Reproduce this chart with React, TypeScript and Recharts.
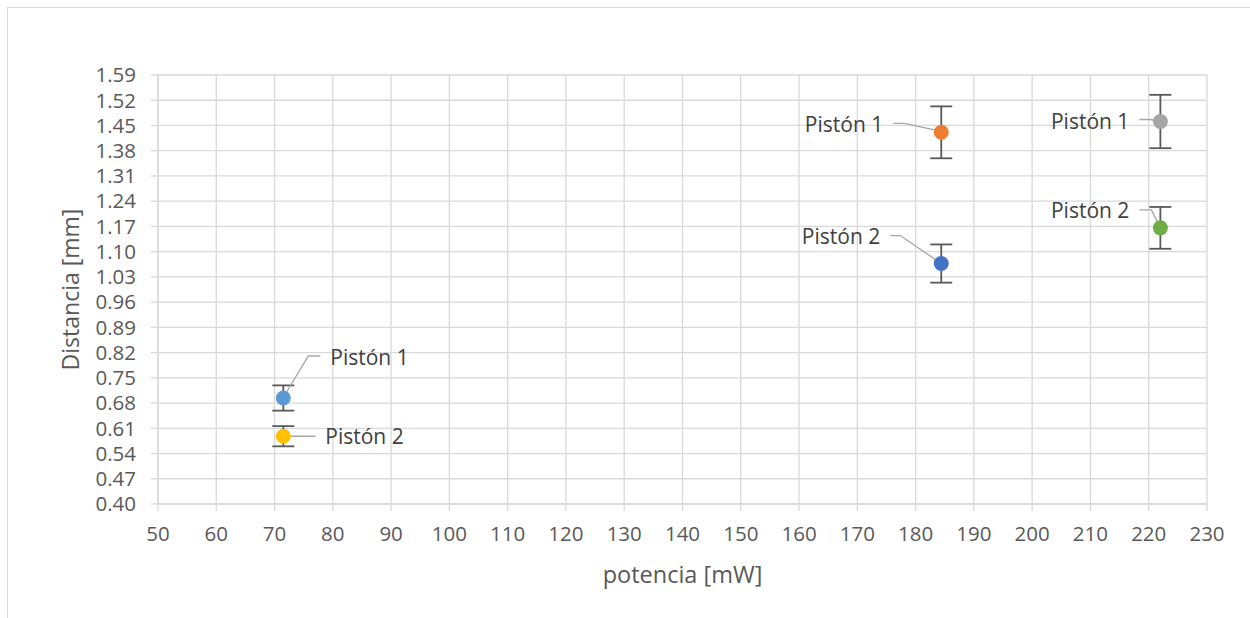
import React from "react";
import { ScatterChart, Scatter, XAxis, YAxis, CartesianGrid, ErrorBar, Label } from "recharts";

// Data
const potencia = [71.5, 71.5, 184.4, 184.4, 222, 222];
const distancia = [0.694, 0.588, 1.431, 1.067, 1.461, 1.166];
const errores = [0.035, 0.028, 0.072, 0.053, 0.074, 0.058];
const etiquetas = ["Pistón 1", "Pistón 2", "Pistón 1", "Pistón 2", "Pistón 1", "Pistón 2"];
const xTicks = [50, 60, 70, 80, 90, 100, 110, 120, 130, 140, 150, 160, 170, 180, 190, 200, 210, 220, 230];
const yTicks = [0.4, 0.47, 0.54, 0.61, 0.68, 0.75, 0.82, 0.89, 0.96, 1.03, 1.1, 1.17, 1.24, 1.31, 1.38, 1.45, 1.52, 1.59];

// Styles
const colores = ["#5B9BD5", "#FFC000", "#ED7D31", "#4472C4", "#A5A5A5", "#70AD47"];
const FONT = "'Open Sans', 'Liberation Sans', sans-serif";
const GRID = "#D9D9D9";
const TXT = "#595959";

// Label leader layout (pixel offsets relative to the point): path points, text anchor point, alignment
type LabelLayout = { path: [number, number][]; tx: number; ty: number; anchor: "start" | "end" };
const labelLayouts: LabelLayout[] = [
  { path: [[1, -2], [25, -42], [37, -42]], tx: 47, ty: -41, anchor: "start" },
  { path: [[0, 0], [32, 0]], tx: 42, ty: 0, anchor: "start" },
  { path: [[0, -1], [-37, -9], [-48, -9]], tx: -58, ty: -8, anchor: "end" },
  { path: [[0, 0], [-41, -28], [-51, -28]], tx: -61, ty: -27, anchor: "end" },
  { path: [[0, 0], [-10, -2], [-21, -2]], tx: -31, ty: 0, anchor: "end" },
  { path: [[0, 0], [-9, -18], [-21, -18]], tx: -31, ty: -17, anchor: "end" },
];

const series = potencia.map((x, i) => [{ x, y: distancia[i], err: errores[i], name: etiquetas[i] }]);

function makeShape(i: number) {
  return (props: any) => {
    const { cx, cy } = props;
    if (cx == null || cy == null) return <g />;
    const l = labelLayouts[i];
    const d = l.path.map((p, k) => `${k === 0 ? "M" : "L"}${cx + p[0]},${cy + p[1]}`).join(" ");
    return (
      <g>
        <path d={d} fill="none" stroke="#A6A6A6" strokeWidth={1.3} />
        <circle cx={cx} cy={cy} r={7.5} fill={colores[i]} />
        <text
          x={cx + l.tx}
          y={cy + l.ty}
          dy="0.36em"
          textAnchor={l.anchor}
          fontFamily={FONT}
          fontSize={21}
          fill="#404040"
        >
          {etiquetas[i]}
        </text>
      </g>
    );
  };
}

export default function App() {
  return (
    <div style={{ position: "absolute", left: 0, top: 0, width: 1250, height: 618, fontFamily: FONT }}>
      <div
        style={{
          position: "absolute",
          left: 7,
          top: 7,
          width: 1243,
          height: 611,
          borderTop: `1px solid ${GRID}`,
          borderLeft: `1px solid ${GRID}`,
          boxSizing: "border-box",
        }}
      />
      <div style={{ position: "absolute", left: 0, top: 0 }}>
        <ScatterChart width={1250} height={618} margin={{ top: 75, right: 43, bottom: 34, left: 58 }}>
          <CartesianGrid stroke={GRID} strokeWidth={1.3} horizontalValues={yTicks} verticalValues={xTicks} />
          <XAxis
            type="number"
            dataKey="x"
            domain={[50, 230]}
            ticks={xTicks}
            allowDataOverflow
            height={80}
            tickSize={7}
            tickMargin={15}
            axisLine={{ stroke: GRID, strokeWidth: 1.3 }}
            tickLine={{ stroke: GRID, strokeWidth: 1.3 }}
            tick={{ fill: TXT, fontSize: 20.5, fontFamily: FONT }}
          >
            <Label
              value="potencia [mW]"
              position="insideBottom"
              offset={1}
              style={{ fill: TXT, fontSize: 23.5, fontFamily: FONT }}
            />
          </XAxis>
          <YAxis
            type="number"
            dataKey="y"
            domain={[0.4, 1.59]}
            ticks={yTicks}
            allowDataOverflow
            interval={0}
            width={100}
            tickSize={7}
            tickMargin={15}
            tickFormatter={(v: number) => v.toFixed(2)}
            axisLine={{ stroke: GRID, strokeWidth: 1.3 }}
            tickLine={{ stroke: GRID, strokeWidth: 1.3 }}
            tick={{ fill: TXT, fontSize: 20.5, fontFamily: FONT }}
          >
            <Label
              value="Distancia [mm]"
              angle={-90}
              position="insideLeft"
              offset={13}
              style={{ fill: TXT, fontSize: 23, fontFamily: FONT, textAnchor: "middle" }}
            />
          </YAxis>
          {series.map((data, i) => (
            <Scatter key={i} data={data} fill={colores[i]} isAnimationActive={false} shape={makeShape(i)}>
              <ErrorBar
                dataKey="err"
                direction="y"
                width={11}
                stroke="#595959"
                strokeWidth={1.8}
                isAnimationActive={false}
              />
            </Scatter>
          ))}
        </ScatterChart>
      </div>
    </div>
  );
}
